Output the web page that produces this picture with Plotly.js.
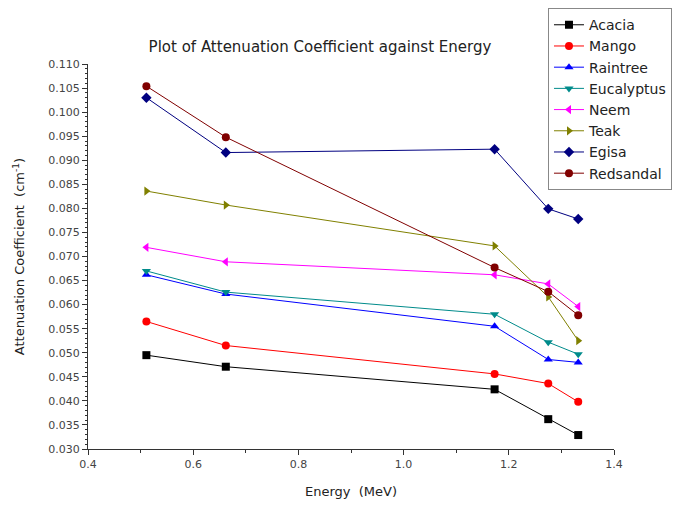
<!DOCTYPE html>
<html>
<head>
<meta charset="utf-8">
<script src="https://cdn.plot.ly/plotly-3.0.1.min.js"></script>
<style>html,body{margin:0;padding:0;background:#fff;}#chart{width:677px;height:506px;}</style>
</head>
<body>
<div id="chart"></div>
<script>
const energy = [0.511, 0.662, 1.173, 1.275, 1.332];
const acacia     = [0.0495, 0.0471, 0.0424, 0.0362, 0.0329];
const mango      = [0.0565, 0.0515, 0.0456, 0.0436, 0.0398];
const raintree   = [0.0662, 0.0622, 0.0555, 0.0486, 0.0480];
const eucalyptus = [0.0670, 0.0626, 0.0580, 0.0522, 0.0497];
const neem       = [0.0719, 0.0689, 0.0662, 0.0643, 0.0596];
const teak       = [0.0836, 0.0807, 0.0722, 0.0616, 0.0525];
const egisa      = [0.1030, 0.0916, 0.0923, 0.0799, 0.0778];
const redsandal  = [0.1054, 0.0948, 0.0677, 0.0627, 0.0578];

const seriesNames = ["Acacia","Mango","Raintree","Eucalyptus","Neem","Teak","Egisa","Redsandal"];
const seriesData = [acacia, mango, raintree, eucalyptus, neem, teak, egisa, redsandal];
const colors = ["#000000","#ff0000","#0000ff","#008b8b","#ff00ff","#808000","#000080","#800000"];
const symbols = ["square","circle","triangle-up","triangle-down","triangle-left","triangle-right","diamond","circle"];

const traces = seriesNames.map((n,i)=>({
  x: energy, y: seriesData[i], name: n, type: "scatter", mode: "lines+markers",
  line: {color: colors[i], width: 1},
  marker: {color: colors[i], symbol: symbols[i], size: 8}
}));

const yticks = [];
for (let k = 0; k <= 16; k++) yticks.push(+(0.030 + k*0.005).toFixed(3));

const FONT = "DejaVu Sans, Liberation Sans, Arial, sans-serif";
const layout = {
  width: 677, height: 506,
  margin: {l: 88, r: 63, t: 64, b: 57, autoexpand: false},
  paper_bgcolor: "#fff", plot_bgcolor: "#fff",
  font: {family: FONT, color: "#333"},
  title: {text: "Plot of Attenuation Coefficient against Energy", x: 0.441, xanchor: "center", xref: "paper",
          y: 0.907, yanchor: "middle", font: {size: 15, color: "#222"}},
  xaxis: {
    range: [0.4, 1.4], showgrid: false, zeroline: false, showline: true, linecolor: "#333", linewidth: 1,
    ticks: "outside", ticklen: 5, tickcolor: "#333", dtick: 0.2, tick0: 0.4, tickformat: ".1f",
    tickfont: {size: 11, color: "#444"},
    minor: {ticks: "outside", ticklen: 3, dtick: 0.1, tickcolor: "#333"},
    title: {text: "Energy  (MeV)", font: {size: 13, color: "#222"}, standoff: 16}
  },
  yaxis: {
    range: [0.030, 0.110], showgrid: false, zeroline: false, showline: true, linecolor: "#333", linewidth: 1,
    ticks: "outside", ticklen: 5, tickcolor: "#333", tickmode: "array", tickvals: yticks,
    ticktext: yticks.map(v=>v.toFixed(3)),
    tickfont: {size: 11, color: "#444"},
    minor: {ticks: "outside", ticklen: 2, dtick: 0.001, tickcolor: "#333"},
    title: {text: "Attenuation Coefficient  (cm<sup>-1</sup>)", font: {size: 13, color: "#222"}, standoff: 20}
  },
  legend: {
    x: 0.8745, xanchor: "left", y: 1.145, yanchor: "top",
    bordercolor: "#888", borderwidth: 1, bgcolor: "#fff",
    font: {size: 14, color: "#222"}, itemwidth: 30, tracegroupgap: 0
  },
  showlegend: true
};

Plotly.newPlot("chart", traces, layout, {displayModeBar: false, staticPlot: true});
</script>
</body>
</html>
